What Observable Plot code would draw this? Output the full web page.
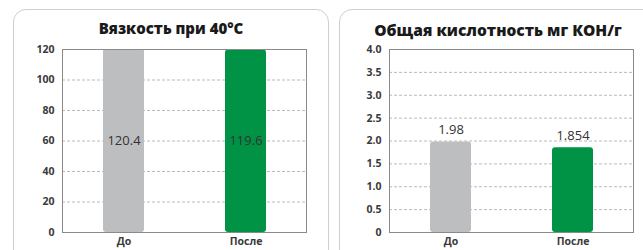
<!DOCTYPE html>
<html>
<head>
<meta charset="utf-8">
<script src="https://cdn.jsdelivr.net/npm/d3@7"></script>
<script src="https://cdn.jsdelivr.net/npm/@observablehq/plot@0.6"></script>
<style>
  html, body { margin: 0; padding: 0; background: #fff; }
  #root { position: relative; width: 643px; height: 250px; overflow: hidden; font-family: "Open Sans", "DejaVu Sans", sans-serif; }
  .panel { position: absolute; top: 9px; height: 270px; border: 1.5px solid #cfcfcf; border-radius: 13px; box-sizing: border-box; }
  .title { position: absolute; top: 18px; font-weight: 800; font-size: 15px; color: #1a1a1a; text-align: center; white-space: nowrap; }
  .chart { position: absolute; top: 40px; }
</style>
</head>
<body>
<div id="root">
  <div class="panel" style="left:13px; width:316px;"></div>
  <div class="panel" style="left:339px; width:320px;"></div>
  <div class="title" style="left:13px; width:316px;">Вязкость при 40°C</div>
  <div class="title" style="left:339px; width:318px; font-size:15.5px; top:19px;">Общая кислотность мг КОН/г</div>
  <div class="chart" id="c1" style="left:0px;"></div>
  <div class="chart" id="c2" style="left:320px;"></div>
</div>
<script>
const categories = ["До", "После"];
const viscosity = [120.4, 119.6];
const acidity = [1.98, 1.854];
const viscosityLabels = ["120.4", "119.6"];
const acidityLabels = ["1.98", "1.854"];
const viscosityTicks = [0, 20, 40, 60, 80, 100, 120];
const acidityTicks = [0, 0.5, 1.0, 1.5, 2.0, 2.5, 3.0, 3.5, 4.0];
const colors = ["#bcbec0", "#009245"];

const font = "'Open Sans', 'DejaVu Sans', sans-serif";

function makeChart({values, labels, ticks, domain, width, marginLeft, marginRight, fmt, labelInside}) {
  const data = categories.map((c, i) => ({cat: c, value: values[i], label: labels[i], color: colors[i]}));
  const gridTicks = ticks.filter(t => t !== domain[0] && t !== domain[1]);
  return Plot.plot({
    width,
    height: 210,
    marginLeft,
    marginRight,
    marginTop: 9,
    marginBottom: 18,
    style: {fontFamily: font, background: "transparent", overflow: "visible"},
    x: {domain: categories, paddingInner: 0.664, paddingOuter: 0.332, align: 0.5},
    y: {domain},
    marks: [
      Plot.gridY(gridTicks, {stroke: "#a8a8a8", strokeOpacity: 1, strokeDasharray: "3,2", strokeWidth: 0.8}),
      Plot.barY(data, {x: "cat", y: "value", fill: "color", rx: 3, clip: true}),
      labelInside
        ? Plot.text(data, {x: "cat", y: d => d.value / 2, text: "label", fontSize: 13, fill: "#333"})
        : Plot.text(data, {x: "cat", y: "value", text: "label", fontSize: 13, fill: "#333", dy: -12}),
      Plot.frame({stroke: "#8a8a8a", strokeWidth: 1}),
      Plot.axisY({ticks, tickSize: 0, tickPadding: 8, tickFormat: fmt, fontSize: 10.5, fontWeight: 700, fill: "#3a3a3a", label: null}),
      Plot.axisX({tickSize: 0, tickPadding: 5, fontSize: 10.5, fontWeight: 700, fill: "#3a3a3a", label: null})
    ]
  });
}

document.getElementById("c1").appendChild(makeChart({
  values: viscosity, labels: viscosityLabels, ticks: viscosityTicks, domain: [0, 120],
  width: 330, marginLeft: 62, marginRight: 24, fmt: d => String(d), labelInside: true
}));
document.getElementById("c2").appendChild(makeChart({
  values: acidity, labels: acidityLabels, ticks: acidityTicks, domain: [0, 4],
  width: 323, marginLeft: 69, marginRight: 10, fmt: d => d === 0 ? "0" : d.toFixed(1), labelInside: false
}));
</script>
</body>
</html>
